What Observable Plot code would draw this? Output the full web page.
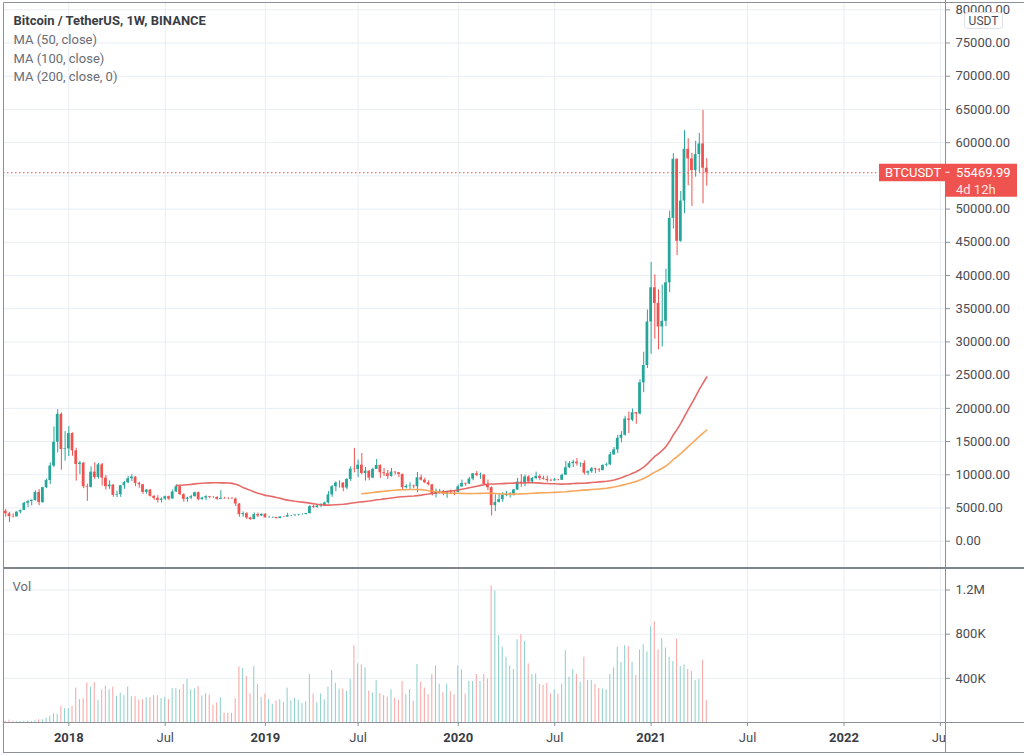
<!DOCTYPE html>
<html>
<head>
<meta charset="utf-8">
<script src="https://cdn.jsdelivr.net/npm/d3@7"></script>
<script src="https://cdn.jsdelivr.net/npm/@observablehq/plot@0.6"></script>
<style>
  html, body { margin: 0; padding: 0; background: #fff; }
  #chart { position: relative; width: 1024px; height: 756px; overflow: hidden; font-family: Roboto, "Noto Sans", sans-serif; }
  #chart svg { display: block; }
</style>
</head>
<body>
<div id="chart"></div>
<script>
// ---------------- data (weekly BTCUSDT candles, Binance) ----------------
const weekStart = "2017-08-14"; // first weekly bar (Mondays follow)
const opens = [
  4261,4086,4310,4505,4130,3699,3660,4400,4640,5710,5975,6133,7345,5811,8057,9140,11312,14900,19100,13800,
  13900,16200,13600,11550,11750,8200,8100,10400,9600,11500,9500,8200,8450,6900,7000,8350,8800,9400,9650,8700,
  8500,7350,7700,6750,6450,6150,6350,6700,6350,7400,8200,7000,6300,6500,6700,7300,6250,6500,6700,6600,
  6580,6300,6450,6400,6380,6340,5600,4000,4150,3500,3250,4000,3800,4050,3510,3540,3560,3410,3650,3620,
  3850,3870,3940,4000,4020,4150,5200,5050,5300,5350,5750,6970,8200,8750,8760,8000,9300,10850,10800,11450,
  10200,10550,9500,10800,11400,10300,10150,9750,10400,10300,10050,8050,8250,8300,8200,9550,9200,8800,8500,7050,
  7400,7500,7100,7500,7390,7350,8180,8700,8600,9350,10150,9900,9970,8550,8050,5350,5850,6250,6900,7050,
  7100,7700,8900,8720,9670,8900,9450,9750,9450,9300,9120,9070,9230,9170,9930,11050,11680,11900,11650,11700,
  10250,10450,10900,10750,10650,11400,11500,13000,13750,15500,15950,18400,18200,19350,19150,23850,26450,33000,38150,35800,
  32250,33100,38900,48600,57500,45150,51200,59000,57550,55800,58200,59800,56150
];
const highs = [
  4485,4453,4939,4788,4345,4123,4406,4658,5856,6171,6189,7590,7776,8100,9350,11800,17204,19798,19300,16500,
  17250,16300,14000,12000,11850,8600,11200,11800,11700,11700,9900,9100,8500,7500,8400,9000,9750,9990,9700,8900,
  8550,7780,7770,6850,6850,6500,6800,6800,7700,8500,8300,7150,6620,6900,7400,7400,6600,6850,6750,6700,
  6700,7600,6600,6550,6550,6500,5650,4400,4300,3600,4250,4250,4100,4150,3750,3650,3560,3700,3700,4200,
  3900,3950,4050,4100,4200,5400,5450,5400,5650,5900,7500,8370,8950,9100,8800,9400,11200,13970,12200,13200,
  11100,10650,11000,12300,11500,10950,10650,10950,10450,10350,10100,8500,8800,8450,10350,9950,9500,9100,8500,7850,
  7800,7650,7500,7700,7500,8450,9200,8750,9600,10150,10500,10250,9990,9200,8200,7000,7000,7300,7500,7300,
  7800,9450,10050,9950,9850,9600,10400,10000,9800,9800,9350,9450,9300,10100,12000,12000,12200,12450,11800,12100,
  10600,11100,11000,10950,11500,11750,13350,14100,15950,16500,18800,19450,19900,19400,24300,28450,34800,41950,40100,37850,
  38550,40950,49700,58350,57550,52650,61800,60600,58400,60200,61400,64850,57570
];
const lows = [
  3850,3400,4124,3603,2817,3505,3653,4110,4600,5037,5322,6030,5325,5699,7900,8520,11100,13300,10700,12050,
  12750,12800,9035,10000,7900,6000,8000,9300,9350,8300,7700,7800,6600,6550,6600,7800,8650,8950,8200,7950,
  7050,7050,6650,6150,5750,5780,6100,6100,6350,7400,6900,5880,5880,6250,6650,6100,6200,6100,6400,6450,
  6150,6250,6350,6250,6300,5200,3600,3600,3250,3150,3250,3550,3700,3500,3480,3400,3350,3370,3550,3620,
  3700,3700,3800,3950,3950,4100,4950,5000,5050,5250,5600,6600,7450,8000,7450,7750,9000,10300,9600,10000,
  9050,9100,9400,10800,9450,9750,9300,9650,9950,9600,7700,7850,7800,7900,7300,9050,8650,8350,6800,6500,
  7100,6850,6450,7100,6850,7300,8100,8250,8550,9100,9700,9300,8400,7600,3780,4450,5750,5850,6700,6500,
  6800,7650,8100,8200,8650,8650,9250,9100,9200,8850,8950,9050,9100,9150,9900,10950,11100,11300,11100,9950,
  9900,10200,10150,10350,10550,11200,11400,12900,13200,14800,15800,16200,18000,17600,19000,22350,26000,28150,30400,28800,
  29250,32300,37400,47000,43000,45000,49300,53500,50400,54800,55450,50800,53450
];
const closes = [
  4086,4310,4509,4130,3699,3660,4378,4640,5709,5950,6169,7345,5811,8059,9129,11312,14900,19100,13800,13900,
  16200,13600,11550,11750,8200,8100,10400,9600,11500,9500,8200,8450,6900,7000,8350,8800,9400,9650,8700,8500,
  7350,7700,6750,6450,6150,6350,6700,6350,7400,8200,7000,6300,6500,6700,7300,6250,6500,6700,6600,6580,
  6300,6450,6400,6380,6340,5600,4000,4150,3500,3250,4000,3800,4050,3510,3540,3560,3410,3650,3620,3850,
  3870,3940,4000,4020,4150,5200,5050,5300,5350,5750,6970,8200,8750,8760,8000,9300,10850,10800,11450,10200,
  10550,9500,10800,11400,10300,10150,9750,10400,10300,10050,8050,8250,8300,8200,9550,9200,8800,8500,7050,7400,
  7500,7100,7500,7390,7350,8180,8700,8600,9350,10150,9900,9970,8550,8050,5350,5850,6250,6900,7050,7100,
  7700,8900,8720,9670,8900,9450,9750,9450,9300,9120,9070,9230,9170,9930,11050,11680,11900,11650,11700,10250,
  10450,10900,10750,10650,11400,11500,13000,13750,15500,15950,18400,18200,19350,19150,23850,26450,33000,38150,35800,32250,
  33100,38900,48600,57500,45150,51200,59000,57550,55800,58200,59800,56150,55469.99
];
const volumesK = [ // thousands of BTC per week
  2,6,8,10,22,10,8,8,12,12,10,16,25,25,38,56,80,75,147,126,
  126,147,312,207,216,357,321,363,198,294,330,297,321,237,267,243,321,234,234,201,
  207,225,225,243,243,219,228,207,306,306,297,345,390,297,303,324,240,261,249,156,
  177,225,84,84,84,216,504,489,417,258,507,345,225,258,207,165,195,207,183,312,
  198,219,201,171,189,435,258,180,258,207,321,471,357,303,303,282,390,696,531,522,
  495,285,267,381,261,243,231,297,219,201,372,252,297,195,525,366,312,252,435,513,
  348,270,348,279,249,513,477,258,372,372,435,372,435,393,1236,1191,786,681,591,513,
  480,750,795,735,531,435,441,345,336,354,261,297,258,348,651,411,480,435,363,591,
  381,381,345,306,303,297,435,495,681,543,696,687,546,426,657,705,639,867,912,657,
  759,675,591,552,753,507,522,480,462,381,390,561,201
];

const priceTicks = [0,5000,10000,15000,20000,25000,30000,35000,40000,45000,50000,55000,60000,65000,70000,75000,80000];
const volTicks = [400000, 800000, 1200000];
const yearTickDates = ["2018-01-01","2019-01-07","2020-01-06","2021-01-04","2022-01-03"];
const yearTickLabels = ["2018","2019","2020","2021","2022"];
const monthTickDates = ["2018-07-02","2019-07-01","2020-07-06","2021-07-05","2022-07-04"];
const monthTickLabels = ["Jul","Jul","Jul","Jul","Jul"];
const legendLines = ["Bitcoin / TetherUS, 1W, BINANCE","MA (50, close)","MA (100, close)","MA (200, close, 0)"];
const maPeriods = [50, 100, 200];
const maColors = ["#e25a58", "#f79f4b", "#2962ff"];
const symbolLabel = "BTCUSDT";
const countdownLabel = "4d 12h";
const currencyLabel = "USDT";

// ---------------- build ----------------
const up = "#26a69a", down = "#ef5350", upVol = "#92d2cc", downVol = "#f7a9a7";
const gridColor = "#e8eef3", borderColor = "#8c9098", textColor = "#4a4d55";

const start = new Date(weekStart);
const dates = d3.utcMonday.range(start, d3.utcDay.offset(start, 7 * opens.length));
const data = dates.map((date, i) => ({
  date, open: opens[i], high: highs[i], low: lows[i], close: closes[i], volume: volumesK[i] * 1000
}));
const lastClose = closes[closes.length - 1];
// the price badge covers the axis label nearest the last price
const labelTicks = priceTicks.filter(t => Math.abs(t - lastClose) > 2500);

const yearDates = yearTickDates.map(s => new Date(s));
const monthDates = monthTickDates.map(s => new Date(s));
const allTickDates = [...yearDates, ...monthDates];
const yearLabel = new Map(yearDates.map((d, i) => [+d, yearTickLabels[i]]));
const monthLabel = new Map(monthDates.map((d, i) => [+d, monthTickLabels[i]]));

const xDomain = [new Date(Date.UTC(2017, 7, 30, 18)), new Date(Date.UTC(2022, 6, 13, 14))];
const candleColor = d => d.close >= d.open ? up : down;
const volColor = d => d.close >= d.open ? upVol : downVol;
const fontFamily = "Roboto, 'Noto Sans', sans-serif";

const legendMarks = legendLines.map((line, i) => Plot.text([line], {
  frameAnchor: "top-left", dx: 10, dy: 17.5 + i * 18.7, textAnchor: "start", lineAnchor: "middle",
  fontSize: 13, fontWeight: i === 0 ? "bold" : "normal",
  fill: i === 0 ? "#3a3d45" : "#6a6d75"
}));

const maMarks = maPeriods.map((k, i) => Plot.lineY(data, Plot.windowY(
  {k, anchor: "end", reduce: "mean", strict: true},
  {x: "date", y: "close", stroke: maColors[i], strokeWidth: 1.6, strokeOpacity: 0.9, clip: true}
)));

const price = Plot.plot({
  width: 1024, height: 568,
  marginLeft: 3, marginRight: 79, marginTop: 3, marginBottom: 0,
  style: {fontFamily, fontSize: "13px", background: "#fff"},
  x: {type: "utc", domain: xDomain, axis: null},
  y: {domain: [-4110, 80948]},
  color: {type: "identity"},
  marks: [
    Plot.gridY(priceTicks, {stroke: gridColor, strokeOpacity: 1}),
    Plot.gridX(allTickDates, {stroke: gridColor, strokeOpacity: 1}),
    Plot.ruleX(data, {x: "date", y1: "low", y2: "high", stroke: candleColor, strokeWidth: 1, clip: true}),
    Plot.rect(data, {
      x1: d => d3.utcHour.offset(d.date, -62), x2: d => d3.utcHour.offset(d.date, 62),
      y1: "open", y2: "close", fill: candleColor, clip: true
    }),
    ...maMarks,
    Plot.ruleY([lastClose], {stroke: down, strokeWidth: 1, strokeDasharray: "1.5,2.5"}),
    Plot.axisY(labelTicks, {
      anchor: "right", label: null, tickSize: 4, tickPadding: 6,
      tickFormat: d => d.toFixed(2), fontSize: 13, fill: textColor, stroke: borderColor
    }),
    ...legendMarks
  ]
});

const vol = Plot.plot({
  width: 1024, height: 188,
  marginLeft: 3, marginRight: 79, marginTop: 0, marginBottom: 34,
  style: {fontFamily, fontSize: "13px", background: "#fff"},
  x: {type: "utc", domain: xDomain},
  y: {domain: [0, 1395000]},
  color: {type: "identity"},
  marks: [
    Plot.gridY(volTicks, {stroke: gridColor, strokeOpacity: 1}),
    Plot.gridX(allTickDates, {stroke: gridColor, strokeOpacity: 1}),
    Plot.rect(data, {
      x1: d => d3.utcHour.offset(d.date, -24), x2: d => d3.utcHour.offset(d.date, 24),
      y1: 0, y2: "volume", fill: volColor, clip: true
    }),
    Plot.axisY(volTicks, {
      anchor: "right", label: null, tickSize: 4, tickPadding: 6,
      tickFormat: d => d >= 1e6 ? (d / 1e6) + "M" : (d / 1e3) + "K",
      fontSize: 13, fill: textColor, stroke: borderColor
    }),
    Plot.axisX(yearDates, {
      anchor: "bottom", label: null, tickSize: 4, tickPadding: 6,
      tickFormat: d => yearLabel.get(+d), fontSize: 13, fontWeight: "bold",
      fill: "#3a3d45", stroke: borderColor
    }),
    Plot.axisX(monthDates, {
      anchor: "bottom", label: null, tickSize: 4, tickPadding: 6,
      tickFormat: d => monthLabel.get(+d), fontSize: 13,
      fill: textColor, stroke: borderColor
    }),
    Plot.text(["Vol"], {frameAnchor: "top-left", dx: 9, dy: 18, textAnchor: "start", lineAnchor: "middle", fontSize: 13, fill: "#6a6d75"})
  ]
});

// ---------------- decorations (panel borders, price badge) ----------------
function line(svg, x1, y1, x2, y2, w = 1, c = borderColor) {
  d3.select(svg).append("line").attr("x1", x1).attr("y1", y1).attr("x2", x2).attr("y2", y2)
    .attr("stroke", c).attr("stroke-width", w);
}
const axisX = 1024 - 79 + 0.5;

// price panel
line(price, 3.5, 2.5, 1024, 2.5);
line(price, 3.5, 2.5, 3.5, 568);
line(price, axisX, 0, axisX, 568);
line(price, 3, 567.5, 1024, 567.5, 1, "#80848c");

const yLast = price.scale("y").apply(lastClose);
const badge = d3.select(price).append("g")
  .attr("font-family", fontFamily).attr("font-size", 13).attr("text-anchor", "start");
badge.append("rect").attr("x", 879).attr("y", yLast - 8.5).attr("width", 138).attr("height", 17.5).attr("fill", down);
badge.append("rect").attr("x", axisX - 0.5).attr("y", yLast + 8.5).attr("width", 72).attr("height", 16).attr("fill", down);
badge.append("line").attr("x1", axisX).attr("x2", axisX + 4).attr("y1", yLast).attr("y2", yLast).attr("stroke", "#fff");
badge.append("text").attr("x", 885).attr("y", yLast).attr("dy", "0.35em").attr("fill", "#fff").text(symbolLabel);
badge.append("text").attr("x", 956).attr("y", yLast).attr("dy", "0.35em").attr("fill", "#fff").text(lastClose.toFixed(2));
badge.append("text").attr("x", 956).attr("y", yLast + 17).attr("dy", "0.35em").attr("fill", "#fde3e2").text(countdownLabel);

const cur = d3.select(price).append("g").attr("font-family", fontFamily);
cur.append("rect").attr("x", 964.5).attr("y", 12.5).attr("width", 38).attr("height", 16).attr("rx", 3)
  .attr("fill", "#fff").attr("stroke", "#dfe2e8");
cur.append("text").attr("x", 983.5).attr("y", 20.5).attr("dy", "0.35em").attr("text-anchor", "middle")
  .attr("font-size", 12).attr("fill", textColor).text(currencyLabel);

// volume panel
d3.select(vol).append("rect").attr("x", axisX + 0.5).attr("y", 156).attr("width", 1024 - axisX).attr("height", 28).attr("fill", "#fff");
line(vol, 3, 0.5, 1024, 0.5, 1, "#80848c");
line(vol, 3.5, 0, 3.5, 184.5);
line(vol, axisX, 0, axisX, 184.5);
line(vol, 3, 154.5, 1024, 154.5);
line(vol, 3, 184.5, 1024, 184.5);

const chart = document.getElementById("chart");
chart.append(price, vol);
</script>
</body>
</html>
